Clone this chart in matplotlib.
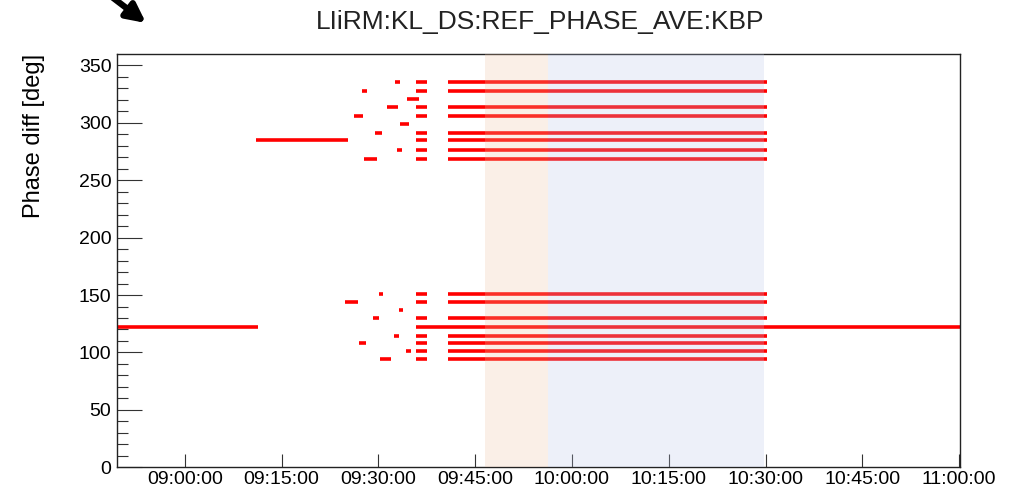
import numpy as np
import pandas as pd
import matplotlib
matplotlib.use("Agg")
import matplotlib.pyplot as plt
import matplotlib.dates as mdates

plt.rcParams['font.family'] = ['Liberation Sans', 'DejaVu Sans']

day = "2020-01-01 "

# levels the phase jumps between (deg)
levels = [335.7, 328.0, 313.8, 306.0, 291.0, 284.6, 276.7, 268.3,
          151.3, 144.0, 129.7, 114.6, 107.9, 101.2, 93.9]

# long steady stretches
steady_val = [122.2, 284.6, 122.2]
steady_start = ["08:49:30", "09:11:03", "09:35:48"]
steady_end = ["09:11:21", "09:25:18", "11:00:10"]

# short scattered pieces 09:24 - 09:37
scat_val = [335.7, 328.0, 321.0, 313.8, 306.0, 298.6, 291.0, 276.7, 268.3,
            151.3, 144.0, 137.3, 129.7, 114.6, 107.9, 101.2, 93.9]
scat_start = ["09:32:36", "09:27:30", "09:34:24", "09:31:18", "09:26:12",
              "09:33:24", "09:29:30", "09:32:54", "09:27:48", "09:30:06",
              "09:24:48", "09:33:12", "09:29:12", "09:32:24", "09:27:00",
              "09:34:18", "09:30:18"]
scat_end = ["09:33:24", "09:28:18", "09:36:18", "09:33:00", "09:27:36",
            "09:34:42", "09:30:36", "09:33:42", "09:29:48", "09:30:42",
            "09:26:48", "09:33:48", "09:30:06", "09:33:12", "09:28:06",
            "09:35:00", "09:32:00"]

# blocks where it toggles over all levels
block_start = ["09:35:48", "09:40:48"]
block_end = ["09:37:30", "10:30:18"]

# shaded periods
shade_start = ["09:46:36", "09:56:18"]
shade_end = ["09:56:18", "10:29:48"]
shade_col = [(239/255, 195/255, 163/255), (187/255, 199/255, 235/255)]

def t(s):
    return mdates.date2num(pd.to_datetime(day + s))

fig = plt.figure(figsize=(10.13, 4.88), dpi=100)
ax = fig.add_axes([0.1155, 0.0424, 0.8322, 0.8463])

lw = 2.6
ax.hlines(steady_val, [t(s) for s in steady_start], [t(s) for s in steady_end],
          color='red', lw=lw)
ax.hlines(scat_val, [t(s) for s in scat_start], [t(s) for s in scat_end],
          color='red', lw=lw)
for bs, be in zip(block_start, block_end):
    ax.hlines(levels, t(bs), t(be), color='red', lw=lw)

for ss, se, c in zip(shade_start, shade_end, shade_col):
    ax.axvspan(t(ss), t(se), color=c, alpha=0.25, lw=0, zorder=5)

ax.set_xlim(t("08:49:30"), t("11:00:08"))
ax.set_ylim(0, 359.6)

ax.xaxis.set_major_locator(mdates.MinuteLocator(byminute=[0, 15, 30, 45]))
ax.xaxis.set_major_formatter(mdates.DateFormatter("%H:%M:%S"))
ax.yaxis.set_major_locator(plt.MultipleLocator(50))
ax.yaxis.set_minor_locator(plt.MultipleLocator(10))

ax.tick_params(axis='y', which='major', direction='in', length=18, width=0.8,
               labelsize=14, pad=4, color='#333333')
ax.tick_params(axis='y', which='minor', direction='in', length=8, width=0.8,
               color='#333333')
ax.tick_params(axis='x', which='major', direction='in', length=9.5, width=0.8,
               labelsize=14, pad=3, color='#333333')
for sp in ax.spines.values():
    sp.set_linewidth(1.0)
    sp.set_color('#222222')

ax.set_ylabel("Phase diff [deg]", fontsize=17, ha='right')
ax.yaxis.set_label_coords(-0.085, 1.0)

fig.text(0.533, 0.955, "LIiRM:KL_DS:REF_PHASE_AVE:KBP", ha='center', va='center',
         fontsize=19, color='#222222')

ax.annotate("", xy=(146, 465), xytext=(108, 494), xycoords='figure pixels',
            textcoords='figure pixels', annotation_clip=False,
            arrowprops=dict(arrowstyle='-|>', lw=4.5, color='black',
                            mutation_scale=28, shrinkA=0, shrinkB=0))

fig.savefig("out.png", dpi=100)
